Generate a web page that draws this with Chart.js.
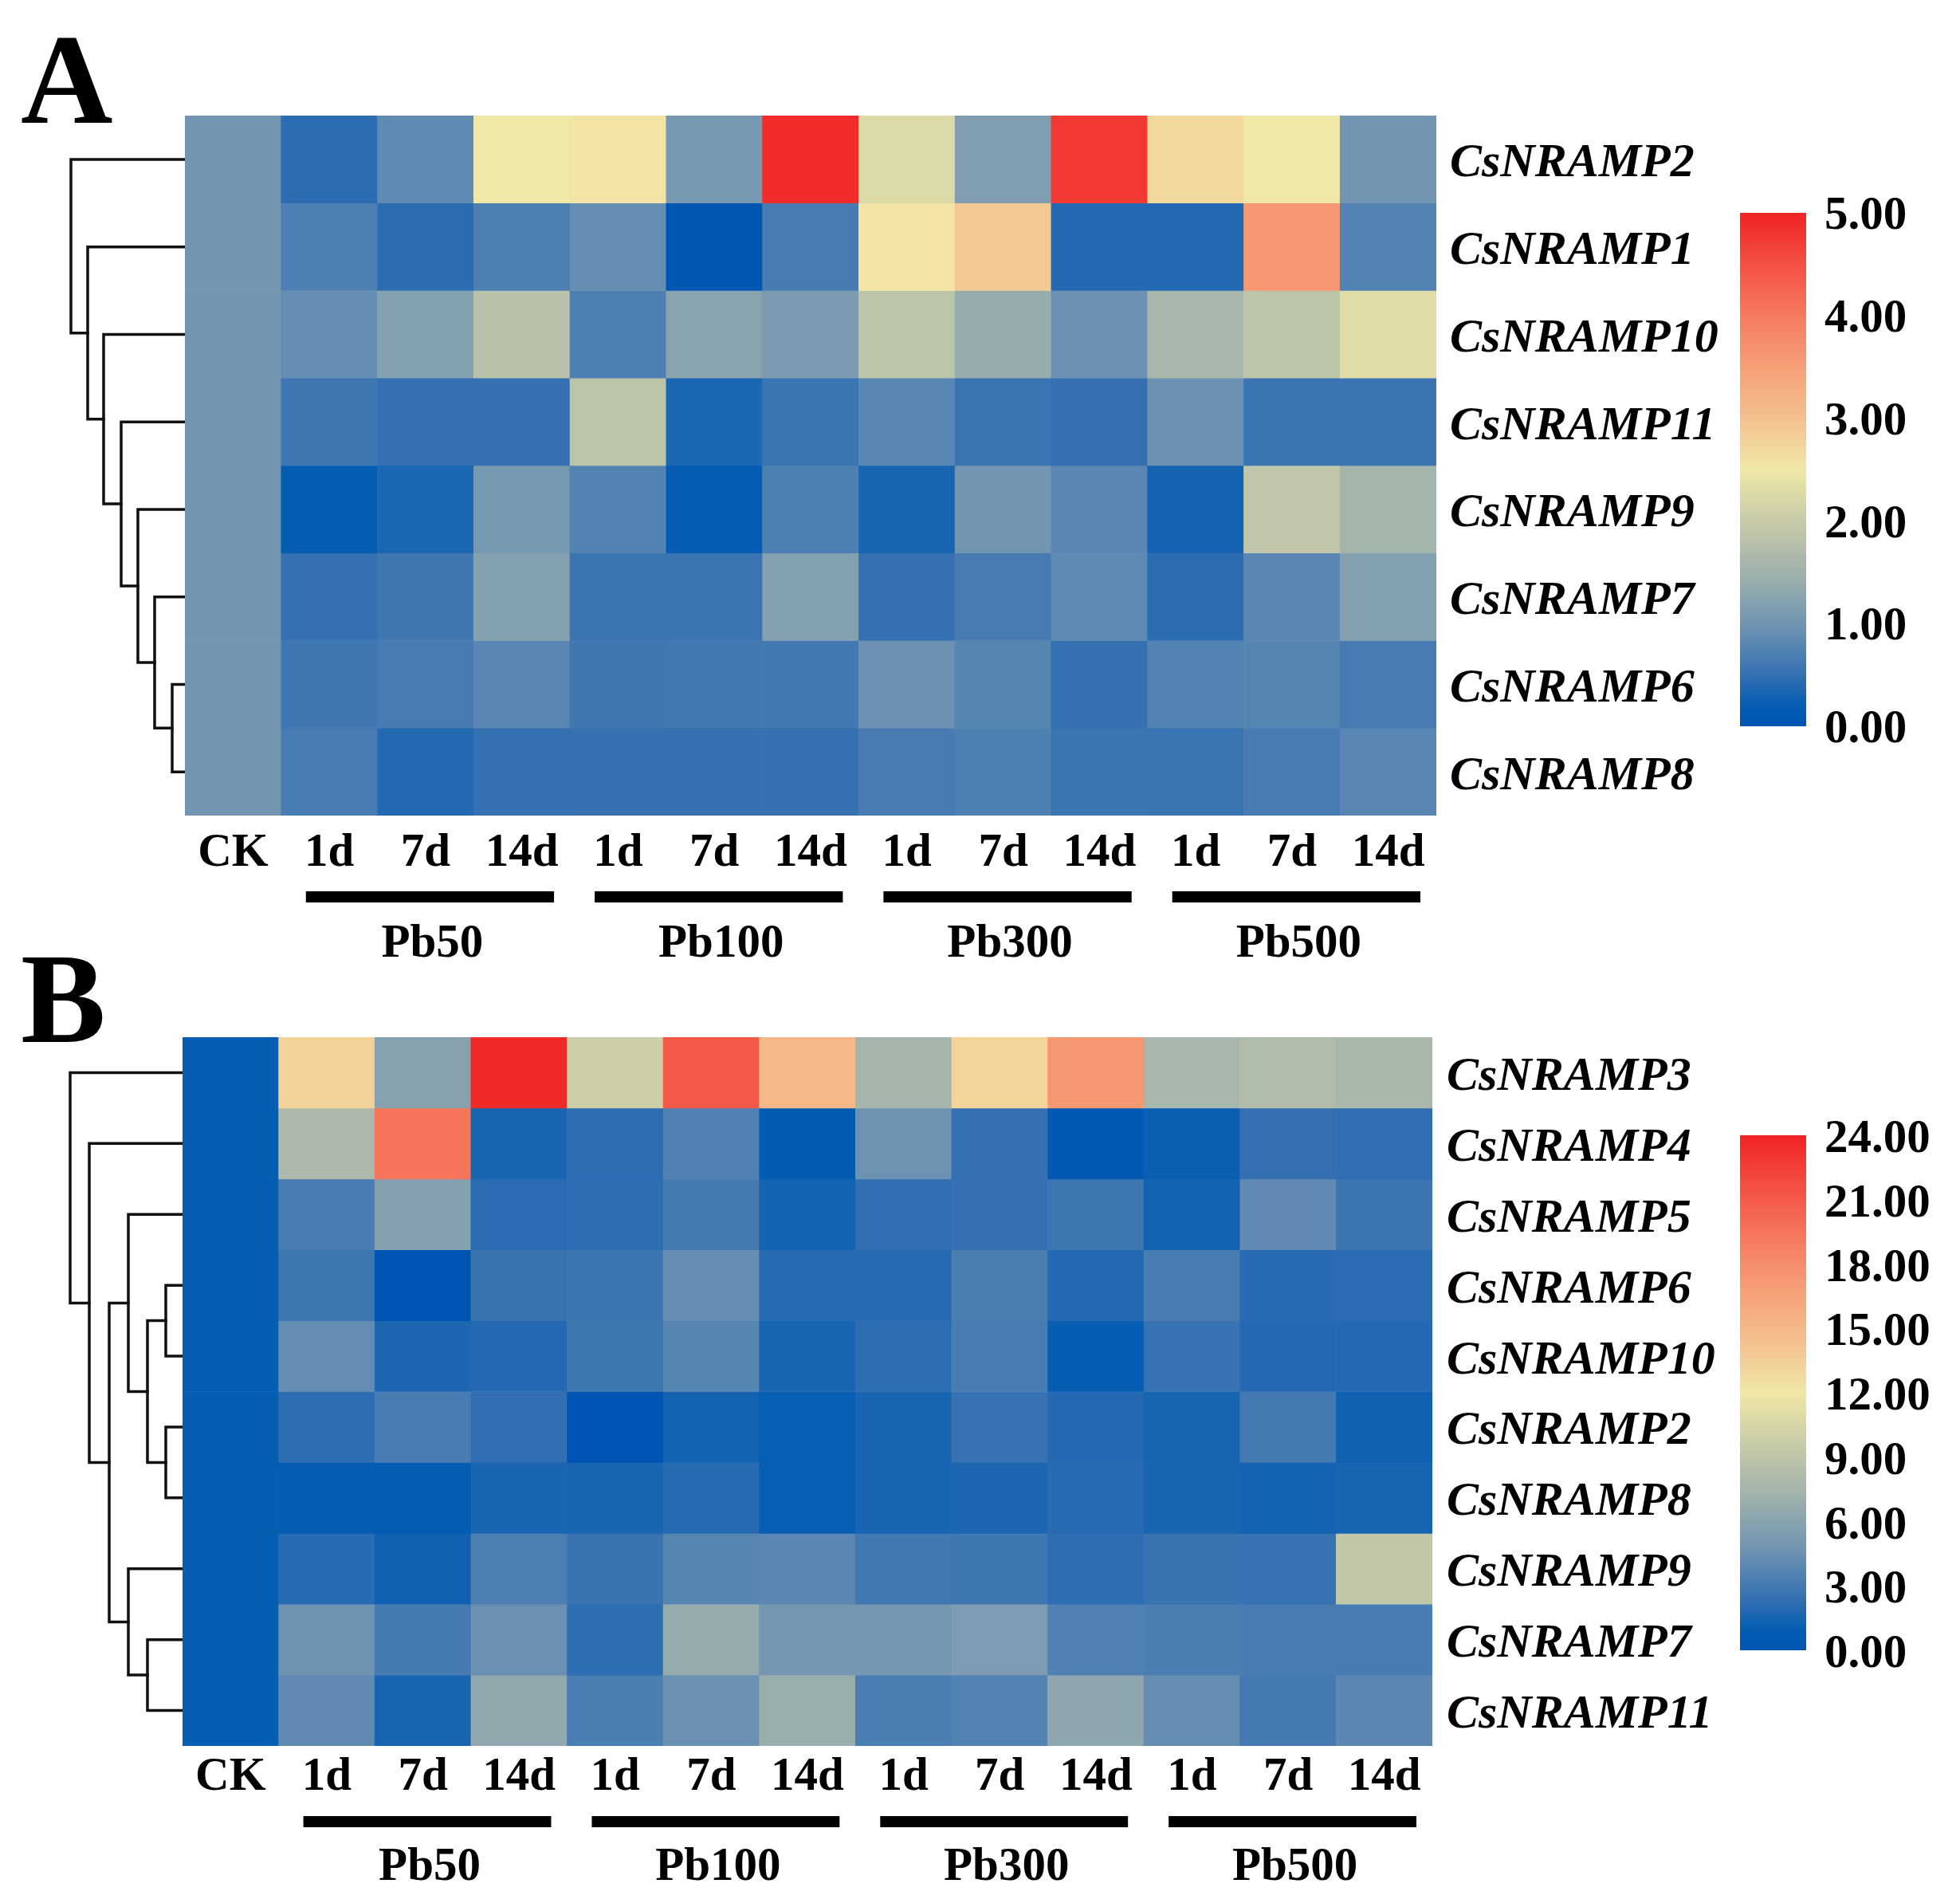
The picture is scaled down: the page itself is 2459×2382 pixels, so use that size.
<!DOCTYPE html>
<html>
<head>
<meta charset="utf-8">
<script src="https://cdn.jsdelivr.net/npm/chart.js@4.4.0/dist/chart.umd.min.js"></script>
<style>
html,body{margin:0;padding:0;background:#fff;}
#page{position:relative;width:2459px;height:2382px;background:#fff;overflow:hidden;}
canvas{position:absolute;}
.letter{position:absolute;font-family:"Liberation Serif","Times New Roman",serif;font-weight:bold;font-size:160px;line-height:160px;color:#000;margin:0;}
</style>
</head>
<body>
<div id="page">
  <div class="letter" style="left:26px;top:20px;">A</div>
  <div class="letter" style="left:26px;top:1173px;">B</div>
</div>
<script>
// ---------------- DATA ----------------
const columns = ["CK","1d","7d","14d","1d","7d","14d","1d","7d","14d","1d","7d","14d"];
const groups = ["Pb50","Pb100","Pb300","Pb500"];
const groupStart = [1,4,7,10];
const groupEnd = [3,6,9,12];

// Panel A (relative expression, scale 0-5)
const genesA = ["CsNRAMP2","CsNRAMP1","CsNRAMP10","CsNRAMP11","CsNRAMP9","CsNRAMP7","CsNRAMP6","CsNRAMP8"];
const A_NRAMP2  = [1.00,0.45,0.85,2.50,2.55,1.05,4.90,2.25,1.15,4.75,2.70,2.50,1.00];
const A_NRAMP1  = [1.00,0.70,0.45,0.70,0.90,0.05,0.65,2.55,2.90,0.40,0.40,3.60,0.75];
const A_NRAMP10 = [1.00,0.90,1.20,1.80,0.70,1.25,1.10,1.85,1.40,0.95,1.60,1.85,2.30];
const A_NRAMP11 = [1.00,0.60,0.50,0.50,1.85,0.35,0.55,0.80,0.55,0.50,0.95,0.55,0.55];
const A_NRAMP9  = [1.00,0.20,0.35,1.05,0.75,0.18,0.70,0.33,1.00,0.80,0.30,1.90,1.55];
const A_NRAMP7  = [1.00,0.50,0.60,1.20,0.55,0.55,1.20,0.50,0.65,0.85,0.45,0.80,1.20];
const A_NRAMP6  = [1.00,0.60,0.65,0.80,0.60,0.62,0.62,0.95,0.78,0.50,0.75,0.78,0.65];
const A_NRAMP8  = [1.00,0.65,0.40,0.50,0.52,0.52,0.52,0.65,0.72,0.57,0.55,0.65,0.80];
const scaleMaxA = 5;
const scaleStepA = 1;
// dendrogram A merges: [childA, childB, height]; leaves 0..7, merged nodes 8..
const mergesA = [[6,7,16],[5,8,38],[4,9,59],[3,10,80],[2,11,102],[1,12,122],[0,13,143]];

// Panel B (relative expression, scale 0-24)
const genesB = ["CsNRAMP3","CsNRAMP4","CsNRAMP5","CsNRAMP6","CsNRAMP10","CsNRAMP2","CsNRAMP8","CsNRAMP9","CsNRAMP7","CsNRAMP11"];
const B_NRAMP3  = [1.0,13.3,5.9,23.7,9.9,21.1,14.9,7.5,13.2,17.3,7.7,8.2,7.8];
const B_NRAMP4  = [1.0,7.9,19.5,1.6,2.2,3.5,0.7,4.6,2.4,0.5,1.1,2.4,2.3];
const B_NRAMP5  = [1.0,3.2,5.8,2.1,2.2,3.1,1.4,2.3,2.4,2.8,1.4,4.1,2.7];
const B_NRAMP6  = [1.0,2.8,0.1,2.6,2.7,4.3,2.0,2.0,3.3,1.9,3.2,2.0,2.1];
const B_NRAMP10 = [1.0,4.3,1.7,1.9,2.8,3.8,1.6,2.2,3.2,1.0,2.5,1.9,1.9];
const B_NRAMP2  = [1.0,2.2,3.2,2.3,0.1,1.4,1.05,1.6,2.5,1.9,1.5,3.0,1.3];
const B_NRAMP8  = [1.0,0.9,0.9,1.6,1.6,2.0,1.05,1.6,1.7,2.0,1.6,1.4,1.5];
const B_NRAMP9  = [1.0,2.0,1.3,3.4,2.6,3.8,3.9,2.9,2.8,2.2,2.6,2.5,9.2];
const B_NRAMP7  = [1.0,4.7,3.1,4.5,2.2,6.6,5.0,5.0,5.4,3.5,3.3,3.2,3.2];
const B_NRAMP11 = [1.0,4.1,1.6,6.4,3.3,4.5,6.9,3.3,3.6,6.2,4.3,3.0,3.9];
const scaleMaxB = 24;
const scaleStepB = 3;
const mergesB = [[3,4,21],[5,6,21],[10,11,44],[2,12,68],[8,9,44],[7,14,68],[13,15,92],[1,16,117],[0,17,141]];

// ---------------- STYLE ----------------
const SERIF = '"Liberation Serif","Times New Roman",serif';
const cmapStops = [
  [0.00,[0,84,178]],[0.04,[5,93,178]],[0.10,[52,112,178]],[0.20,[114,149,178]],
  [0.30,[160,178,172]],[0.40,[200,203,168]],[0.50,[240,232,166]],[0.60,[245,192,142]],
  [0.70,[246,160,118]],[0.80,[246,122,94]],[0.90,[244,80,65]],[1.00,[240,35,35]]
];
function colorFor(f){
  f = Math.max(0, Math.min(1, f));
  for (let i = 1; i < cmapStops.length; i++) {
    const [f1,c1] = cmapStops[i];
    const [f0,c0] = cmapStops[i-1];
    if (f <= f1) {
      const t = (f - f0) / (f1 - f0);
      const c = c0.map((v,k)=>Math.round(v + (c1[k]-v)*t));
      return `rgb(${c[0]},${c[1]},${c[2]})`;
    }
  }
  const c = cmapStops[cmapStops.length-1][1];
  return `rgb(${c[0]},${c[1]},${c[2]})`;
}

function makeCanvas(left, top, w, h){
  const c = document.createElement('canvas');
  c.width = w; c.height = h;
  c.style.left = left+'px'; c.style.top = top+'px';
  c.style.width = w+'px'; c.style.height = h+'px';
  document.getElementById('page').appendChild(c);
  return c;
}

const base = {
  responsive:false, animation:false, devicePixelRatio:1, events:[],
  plugins:{legend:{display:false}, tooltip:{enabled:false}}
};

function heatmap(cfg){
  const {rows, genes, vmax, left, top, width, height, xPad, yPad, barOff, groupOff} = cfg;
  const RIGHT_W = 380, BOTTOM_H = 210;
  const canvas = makeCanvas(left, top, width + RIGHT_W, height + BOTTOM_H);
  const datasets = rows.map((vals, r) => ({
    data: vals.map(() => [r, r+1]),
    backgroundColor: vals.map(v => colorFor(v / vmax)),
    borderWidth: 0,
    grouped: false,
    barPercentage: 1,
    categoryPercentage: 1
  }));
  const groupPlugin = {
    id:'groups',
    afterDraw(chart){
      const xs = chart.scales.x, area = chart.chartArea, ctx = chart.ctx;
      const colW = xs.getPixelForTick(1) - xs.getPixelForTick(0);
      ctx.save();
      groups.forEach((g, k) => {
        const x1 = xs.getPixelForTick(groupStart[k]) - colW/2 + 31;
        const x2 = xs.getPixelForTick(groupEnd[k]) + colW/2 - 20;
        ctx.fillStyle = '#000';
        ctx.fillRect(x1, area.bottom + barOff - 7, x2 - x1, 14);
        ctx.font = `bold 59px ${SERIF}`;
        ctx.textAlign = 'center';
        ctx.textBaseline = 'middle';
        ctx.fillText(g, (x1 + x2)/2 + 3, area.bottom + groupOff);
      });
      ctx.restore();
    }
  };
  new Chart(canvas, {
    type:'bar',
    data:{labels:columns, datasets},
    options:{
      ...base,
      layout:{padding:0},
      scales:{
        x:{
          type:'category', position:'bottom', offset:true,
          grid:{display:false, drawTicks:false}, border:{display:false},
          ticks:{font:{family:SERIF, size:59, weight:'bold'}, color:'#000', padding:xPad, maxRotation:0, autoSkip:false},
          afterFit(ax){ ax.height = BOTTOM_H; ax.paddingLeft = 0; ax.paddingRight = 0; }
        },
        y:{
          type:'linear', position:'right', min:0, max:genes.length, reverse:true,
          grid:{display:false, drawTicks:false}, border:{display:false},
          afterBuildTicks(ax){ ax.ticks = genes.map((g,i)=>({value:i+0.5})); },
          ticks:{font:{family:SERIF, size:60, weight:'bold', style:'italic'}, color:'#000', padding:yPad, autoSkip:false,
                 labelOffset:6, callback:(v,i)=>genes[i]},
          afterFit(ax){ ax.width = RIGHT_W; ax.paddingTop = 0; ax.paddingBottom = 0; }
        }
      }
    },
    plugins:[groupPlugin]
  });
}

function dendrogram(cfg){
  const {n, merges, left, top, width, height} = cfg;
  const canvas = makeCanvas(left, top, width, height);
  const pos = [];
  for (let i = 0; i < n; i++) pos.push({x:0, y:i+0.5});
  const datasets = [];
  merges.forEach(([a,b,h]) => {
    const pa = pos[a], pb = pos[b];
    datasets.push({
      data:[{x:pa.x,y:pa.y},{x:h,y:pa.y},{x:h,y:pb.y},{x:pb.x,y:pb.y}],
      showLine:true, borderColor:'#111', borderWidth:3.5, pointRadius:0,
      borderJoinStyle:'miter', borderCapStyle:'square', tension:0, clip:false, fill:false
    });
    pos.push({x:h, y:(pa.y+pb.y)/2});
  });
  new Chart(canvas, {
    type:'scatter',
    data:{datasets},
    options:{
      ...base,
      layout:{padding:0},
      scales:{
        x:{type:'linear', min:0, max:width, reverse:true, display:false},
        y:{type:'linear', min:0, max:n, reverse:true, display:false}
      }
    }
  });
}

function colorbar(cfg){
  const {vmax, step, left, top, width, height, labelOffset} = cfg;
  const PADV = 40, AXW = 185;
  const canvas = makeCanvas(left, top - PADV, width + AXW, height + 2*PADV);
  new Chart(canvas, {
    type:'bar',
    data:{labels:[''], datasets:[{
      data:[[0, vmax]],
      barPercentage:1, categoryPercentage:1, borderWidth:0,
      backgroundColor:(ctx)=>{
        const area = ctx.chart.chartArea;
        if (!area) return colorFor(0.5);
        const g = ctx.chart.ctx.createLinearGradient(0, area.bottom, 0, area.top);
        cmapStops.forEach(([f,c]) => g.addColorStop(f, `rgb(${c[0]},${c[1]},${c[2]})`));
        return g;
      }
    }]},
    options:{
      ...base,
      layout:{padding:{top:PADV, bottom:PADV, left:0, right:0}},
      scales:{
        x:{display:false},
        y:{
          type:'linear', position:'right', min:0, max:vmax,
          grid:{display:false, drawTicks:false}, border:{display:false},
          ticks:{stepSize:step, font:{family:SERIF, size:59, weight:'bold'}, color:'#000', padding:23,
                 labelOffset:labelOffset, callback:(v)=>Number(v).toFixed(2)},
          afterFit(ax){ ax.width = AXW; ax.paddingTop = 0; ax.paddingBottom = 0; }
        }
      }
    }
  });
}

// ---------------- BUILD ----------------
heatmap({rows:[A_NRAMP2,A_NRAMP1,A_NRAMP10,A_NRAMP11,A_NRAMP9,A_NRAMP7,A_NRAMP6,A_NRAMP8],
  genes:genesA, vmax:scaleMaxA, left:232, top:145, width:1570, height:878,
  xPad:12, yPad:17, barOff:102, groupOff:162});
dendrogram({n:genesA.length, merges:mergesA, left:0, top:145, width:232, height:878});
colorbar({vmax:scaleMaxA, step:scaleStepA, left:2183, top:267, width:83, height:644, labelOffset:5});

heatmap({rows:[B_NRAMP3,B_NRAMP4,B_NRAMP5,B_NRAMP6,B_NRAMP10,B_NRAMP2,B_NRAMP8,B_NRAMP9,B_NRAMP7,B_NRAMP11],
  genes:genesB, vmax:scaleMaxB, left:229, top:1301, width:1568, height:889,
  xPad:4, yPad:18, barOff:95, groupOff:153});
dendrogram({n:genesB.length, merges:mergesB, left:0, top:1301, width:229, height:889});
colorbar({vmax:scaleMaxB, step:scaleStepB, left:2183, top:1424, width:83, height:646, labelOffset:6});
</script>
</body>
</html>
